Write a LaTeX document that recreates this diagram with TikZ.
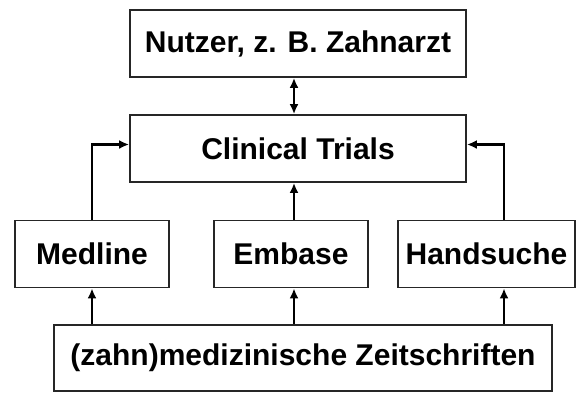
\documentclass[tikz,border=0pt]{standalone}
\usepackage{fontspec}
\setmainfont{Liberation Sans}
\usetikzlibrary{arrows.meta}
\begin{document}
\begin{tikzpicture}[x=1pt,y=-1pt,
  box/.style={draw=black!85,line width=1.8pt,rectangle,inner sep=0pt,
    font=\fontsize{30}{36}\selectfont\bfseries},
  arr/.style={line width=2.6pt,-{Latex[length=10pt,width=9pt]}},
  dbl/.style={line width=2.6pt,{Latex[length=10pt,width=9pt]}-{Latex[length=10pt,width=9pt]}}]
\useasboundingbox (0,0) rectangle (588,392);
\node[box,minimum width=336pt,minimum height=67pt] (nutzer) at (298,43.5) {Nutzer, z. B. Zahnarzt};
\node[box,minimum width=336pt,minimum height=67pt] (ct) at (298,148.5) {Clinical Trials};
\node[box,minimum width=154pt,minimum height=67pt] (med) at (92,254) {Medline};
\node[box,minimum width=154pt,minimum height=67pt] (emb) at (291,254) {Embase};
\node[box,minimum width=177pt,minimum height=67pt] (hand) at (486.5,254) {Handsuche};
\node[box,minimum width=498pt,minimum height=66pt] (bot) at (303,358) {(zahn)medizinische Zeitschriften};
\coordinate (ax) at (294,0);
\coordinate (hx) at (504,0);
\coordinate (ey) at (0,144.5);
\draw[dbl] (nutzer.south -| ax) -- (ct.north -| ax);
\draw[arr] (med.north) |- (ct.west |- ey);
\draw[arr] (hand.north -| hx) |- (ct.east |- ey);
\draw[arr] (emb.north -| ax) -- (ct.south -| ax);
\draw[arr] (bot.north -| med) -- (med.south);
\draw[arr] (bot.north -| ax) -- (emb.south -| ax);
\draw[arr] (bot.north -| hx) -- (hand.south -| hx);
\end{tikzpicture}
\end{document}
